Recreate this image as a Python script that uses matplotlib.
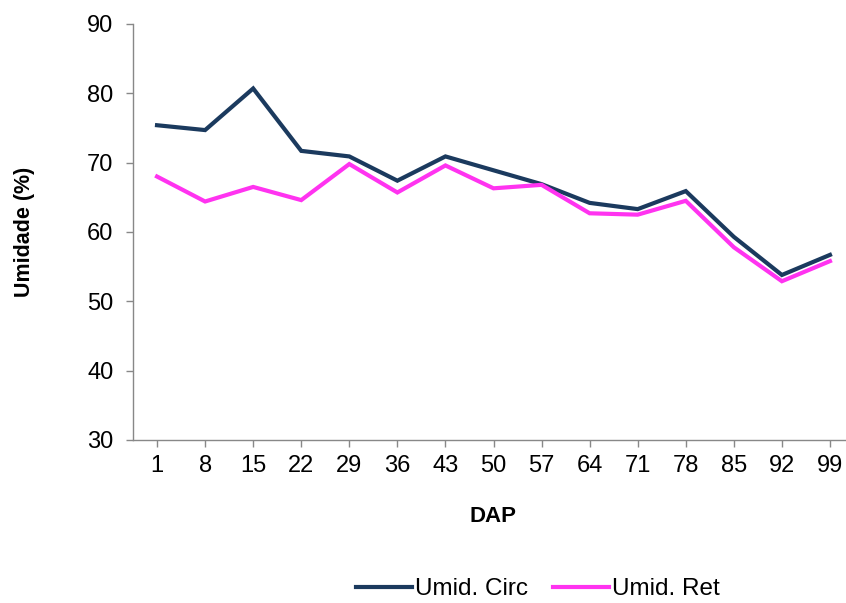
import numpy as np
import matplotlib.pyplot as plt

plt.rcParams['font.family'] = ['Liberation Sans', 'DejaVu Sans']

# DAP categories
dap = ['1', '8', '15', '22', '29', '36', '43', '50', '57', '64', '71', '78', '85', '92', '99']

# humidity values (%)
umid_circ = [75.4, 74.7, 80.7, 71.7, 70.9, 67.4, 70.9, 68.9, 66.9, 64.2, 63.3, 65.9, 59.3, 53.8, 56.7]
umid_ret = [68.0, 64.4, 66.5, 64.6, 69.8, 65.7, 69.6, 66.3, 66.8, 62.7, 62.5, 64.5, 57.8, 52.9, 55.8]

W, H = 846, 603
fig = plt.figure(figsize=(W / 100, H / 100), dpi=100)
# plot area: left edge x=133, top y=24, bottom y=440; right edge runs past the image
ax = fig.add_axes([133 / W, 1 - 440 / H, (854 - 133) / W, (440 - 24) / H])

x = np.arange(len(dap))
ax.plot(x, umid_circ, color='#1B3A5E', lw=3, label='Umid. Circ', solid_joinstyle='miter')
ax.plot(x, umid_ret, color='#FF33F0', lw=3, label='Umid. Ret', solid_joinstyle='miter')

ax.set_xlim(-0.5, len(dap) - 0.5)
ax.set_ylim(30, 90)
ax.set_yticks(range(30, 91, 10))
ax.set_xticks(x)
ax.set_xticklabels(dap)

for side in ['top', 'right']:
    ax.spines[side].set_visible(False)
for side in ['left', 'bottom']:
    ax.spines[side].set_color('#888888')
    ax.spines[side].set_linewidth(1)

ax.tick_params(axis='y', length=5, width=1, color='#888888', pad=9, labelsize=17)
ax.tick_params(axis='x', length=5, width=1, color='#888888', pad=6, labelsize=17)

ax.set_ylabel('Umidade (%)', fontsize=15.5, fontweight='bold', labelpad=0)
ax.yaxis.set_label_coords(35 / W, 1 - 232 / H, transform=fig.transFigure)
ax.set_xlabel('DAP', fontsize=16, fontweight='bold')
ax.xaxis.set_label_coords(493 / W, 1 - 506 / H, transform=fig.transFigure)

fig.legend(loc='center', bbox_to_anchor=(538 / W, 1 - 589 / H), ncol=2, frameon=False,
           fontsize=17.5, handlelength=2.3, handletextpad=0.15, columnspacing=1.0)

fig.savefig('out.png', dpi=100, facecolor='white')
